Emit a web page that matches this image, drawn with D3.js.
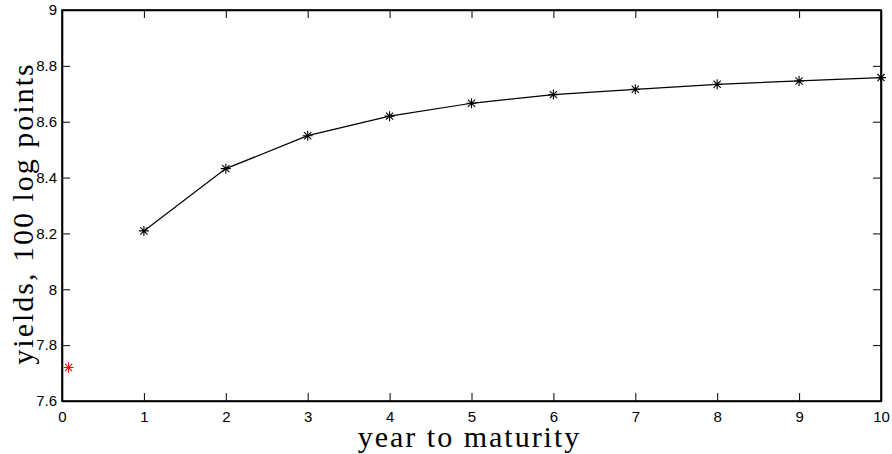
<!DOCTYPE html>
<html>
<head>
<meta charset="utf-8">
<script src="https://cdn.jsdelivr.net/npm/d3@7"></script>
<style>
  body { margin: 0; background: #fff; }
  svg { display: block; }
</style>
</head>
<body>
<figure id="chart" style="margin:0"></figure>
<script>
// yield curve, maturities in years
const maturities = [1, 2, 3, 4, 5, 6, 7, 8, 9, 10];
const yields = [8.209, 8.432, 8.550, 8.620, 8.666, 8.697, 8.716, 8.734, 8.746, 8.758];
// short rate point (red)
const shortMaturity = [0.08];
const shortYield = [7.72];

const xTicks = [0, 1, 2, 3, 4, 5, 6, 7, 8, 9, 10];
const yTicks = [7.6, 7.8, 8, 8.2, 8.4, 8.6, 8.8, 9];

const W = 892, H = 454;
const margin = { top: 10, right: 11, bottom: 53, left: 62 };
const width = W - margin.left - margin.right;
const height = H - margin.top - margin.bottom;

const svg = d3.select("figure#chart")
  .append("svg")
  .attr("width", W)
  .attr("height", H)
  .append("g")
  .attr("transform", "translate(" + margin.left + "," + margin.top + ")");

const x = d3.scaleLinear().domain([0, 10]).range([0, width]);
const y = d3.scaleLinear().domain([7.6, 9]).range([height, 0]);

const tickLen = 8;

// bottom axis, ticks pointing in
svg.append("g")
  .attr("transform", "translate(0," + height + ")")
  .call(d3.axisBottom(x).tickValues(xTicks).tickSizeInner(-tickLen).tickSizeOuter(0).tickPadding(10).tickFormat(d3.format("d")));

// top axis mirror
svg.append("g")
  .call(d3.axisTop(x).tickValues(xTicks).tickSizeInner(-tickLen).tickSizeOuter(0).tickFormat(""));

// left axis
svg.append("g")
  .call(d3.axisLeft(y).tickValues(yTicks).tickSizeInner(-tickLen).tickSizeOuter(0).tickPadding(5)
    .tickFormat(d => d3.format("~g")(d)));

// right axis mirror
svg.append("g")
  .attr("transform", "translate(" + width + ",0)")
  .call(d3.axisRight(y).tickValues(yTicks).tickSizeInner(-tickLen).tickSizeOuter(0).tickFormat(""));

svg.selectAll(".domain").attr("stroke", "#000").attr("stroke-width", 1.6);
svg.selectAll(".tick line").attr("stroke", "#000").attr("stroke-width", 1);
svg.selectAll(".tick text")
  .attr("fill", "#000")
  .style("font-family", "'Liberation Sans', Arial, sans-serif")
  .style("font-size", "15px");

// box frame
svg.append("rect")
  .attr("width", width).attr("height", height)
  .attr("fill", "none").attr("stroke", "#000").attr("stroke-width", 1.6);

// line
const line = d3.line()
  .x((d, i) => x(maturities[i]))
  .y(d => y(d));

svg.append("path")
  .datum(yields)
  .attr("d", line)
  .attr("fill", "none")
  .attr("stroke", "#000")
  .attr("stroke-width", 1.2);

// asterisk marker: plus and cross overlaid
function asterisk(r) {
  const a = r * 0.72;
  return "M" + (-r) + ",0L" + r + ",0M0," + (-r) + "L0," + r +
    "M" + (-a) + "," + (-a) + "L" + a + "," + a +
    "M" + (-a) + "," + a + "L" + a + "," + (-a);
}

svg.selectAll(".mark")
  .data(yields)
  .enter()
  .append("path")
  .attr("transform", (d, i) => "translate(" + x(maturities[i]) + "," + y(d) + ")")
  .attr("d", asterisk(5))
  .attr("stroke", "#000")
  .attr("stroke-width", 1.1)
  .attr("fill", "none");

svg.selectAll(".short")
  .data(shortYield)
  .enter()
  .append("path")
  .attr("transform", (d, i) => "translate(" + x(shortMaturity[i]) + "," + y(d) + ")")
  .attr("d", asterisk(5))
  .attr("stroke", "#ff0000")
  .attr("stroke-width", 1.1)
  .attr("fill", "none");

// axis labels
svg.append("text")
  .attr("x", width / 2 - 2)
  .attr("y", height + 46)
  .attr("text-anchor", "middle")
  .style("font-family", "'Liberation Serif', 'Times New Roman', serif")
  .style("font-size", "30px")
  .style("letter-spacing", "2px")
  .text("year to maturity");

svg.append("text")
  .attr("transform", "translate(-29," + (height / 2 + 8) + ") rotate(-90)")
  .attr("text-anchor", "middle")
  .style("font-family", "'Liberation Serif', 'Times New Roman', serif")
  .style("font-size", "30px")
  .style("letter-spacing", "2px")
  .text("yields, 100 log points");
</script>
</body>
</html>
